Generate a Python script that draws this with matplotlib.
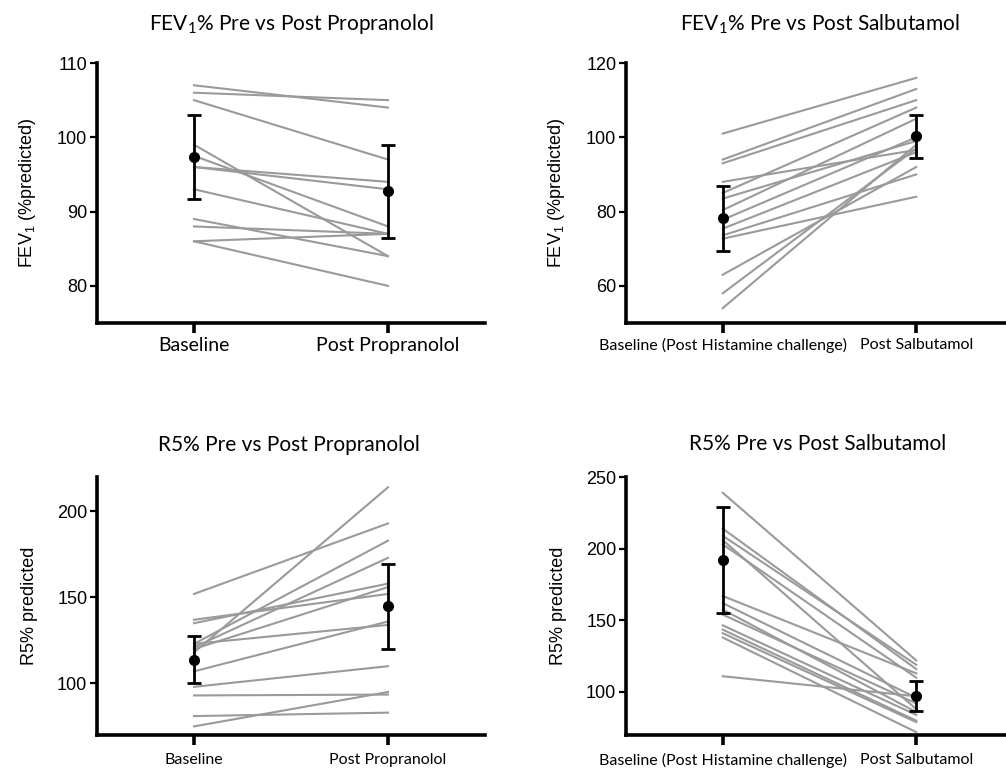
import numpy as np
import matplotlib
matplotlib.use("Agg")
import matplotlib.pyplot as plt

# ---------- Data ----------
groups_prop = ["Baseline", "Post Propranolol"]
groups_salb = ["Baseline (Post Histamine challenge)", "Post Salbutamol"]

fev_prop_base = [107, 106, 105, 99, 97.5, 96, 96, 93, 89, 88, 86, 86]
fev_prop_post = [104, 105, 97, 84, 88, 94, 93, 87, 84, 87, 87, 80]
fev_prop_mean = [97.4, 92.8]
fev_prop_lo = [91.7, 86.5]
fev_prop_hi = [103.0, 98.9]

fev_salb_base = [101, 94, 93, 88, 85, 83.5, 80.4, 77.8, 75.4, 73.6, 72.7, 63, 58, 54]
fev_salb_post = [116, 113, 110, 96.6, 108, 99, 105, 100, 96, 90, 84, 92, 97, 98]
fev_salb_mean = [78.4, 100.4]
fev_salb_lo = [69.5, 94.5]
fev_salb_hi = [86.8, 106.0]

r5_prop_base = [152, 118, 137, 135, 123, 121, 120, 123, 107, 98, 93, 81, 75]
r5_prop_post = [193, 214, 152, 158, 183, 173, 156, 134, 136, 110, 93.5, 83, 95]
r5_prop_mean = [113.8, 145.2]
r5_prop_lo = [100.0, 120.2]
r5_prop_hi = [127.5, 169.6]

r5_salb_base = [239, 214, 209, 206, 203, 167, 162, 157.5, 154, 146.5, 143.5, 141, 138, 111]
r5_salb_post = [122, 116, 119, 88, 110, 113, 96, 86, 92, 84, 80, 79, 72, 97]
r5_salb_mean = [192.3, 97.2]
r5_salb_lo = [155.1, 86.7]
r5_salb_hi = [229.1, 107.6]

# ---------- Figure ----------
W, H = 1006, 772
fig = plt.figure(figsize=(W / 100, H / 100), dpi=100)

TITLE_FONT = ["Lato", "DejaVu Sans"]
TICK_FONT = ["Liberation Sans", "DejaVu Sans"]


def px_axes(x0, y0, x1, y1):
    # pixel box (top-left origin) -> figure fraction
    return fig.add_axes([x0 / W, 1 - y1 / H, (x1 - x0) / W, (y1 - y0) / H])


def panel(ax, base, post, mean, lo, hi, labels, ylim, yticks, ylabel, xsize, xpad):
    for b, p in zip(base, post):
        ax.plot([0, 1], [b, p], color="#9a9a9a", lw=1.5, clip_on=False, zorder=2)
    mean = np.array(mean)
    yerr = [mean - np.array(lo), np.array(hi) - mean]
    ax.errorbar([0, 1], mean, yerr=yerr, fmt="o", color="black", ms=7,
                elinewidth=2, capsize=5, capthick=2, zorder=3, clip_on=False)
    ax.set_xlim(-0.5, 1.5)
    ax.set_ylim(*ylim)
    ax.set_yticks(yticks)
    ax.set_xticks([0, 1])
    ax.set_xticklabels(labels, family=TITLE_FONT, fontsize=xsize)
    for t in ax.get_yticklabels():
        t.set_family(TICK_FONT)
        t.set_fontsize(13)
    ax.spines["top"].set_visible(False)
    ax.spines["right"].set_visible(False)
    ax.spines["left"].set_linewidth(2.6)
    ax.spines["bottom"].set_linewidth(2.6)
    ax.tick_params(axis="x", direction="out", length=7, width=2.6, pad=xpad)
    ax.tick_params(axis="y", direction="out", length=5, width=1.6, pad=2)
    ax.set_ylabel(ylabel, family=TICK_FONT, fontsize=13, labelpad=14)
    ax.patch.set_alpha(0)


ax1 = px_axes(97, 63, 485, 323)
panel(ax1, fev_prop_base, fev_prop_post, fev_prop_mean, fev_prop_lo, fev_prop_hi,
      groups_prop, (75, 110), [80, 90, 100, 110], "FEV$_\\mathregular{1}$ (%predicted)", 14, 3)

ax2 = px_axes(626, 63, 1013, 323)
panel(ax2, fev_salb_base, fev_salb_post, fev_salb_mean, fev_salb_lo, fev_salb_hi,
      groups_salb, (50, 120), [60, 80, 100, 120], "FEV$_\\mathregular{1}$ (%predicted)", 11.5, 4)

ax3 = px_axes(97, 477, 485, 735)
panel(ax3, r5_prop_base, r5_prop_post, r5_prop_mean, r5_prop_lo, r5_prop_hi,
      groups_prop, (70, 220), [100, 150, 200], "R5% predicted", 11.5, 6)

ax4 = px_axes(626, 477, 1013, 735)
panel(ax4, r5_salb_base, r5_salb_post, r5_salb_mean, r5_salb_lo, r5_salb_hi,
      groups_salb, (70, 250), [100, 150, 200, 250], "R5% predicted", 11.5, 6)

# ---------- Titles ----------
fig.text(291 / W, 1 - 30 / H, "FEV$_\\mathregular{1}$% Pre vs Post Propranolol",
         ha="center", va="baseline", family=TITLE_FONT, fontsize=15)
fig.text(820 / W, 1 - 30 / H, "FEV$_\\mathregular{1}$% Pre vs Post Salbutamol",
         ha="center", va="baseline", family=TITLE_FONT, fontsize=15)
fig.text(289 / W, 1 - 451 / H, "R5% Pre vs Post Propranolol",
         ha="center", va="baseline", family=TITLE_FONT, fontsize=15)
fig.text(818 / W, 1 - 450 / H, "R5% Pre vs Post Salbutamol",
         ha="center", va="baseline", family=TITLE_FONT, fontsize=15)

fig.savefig("out.png", dpi=100, facecolor="white")
